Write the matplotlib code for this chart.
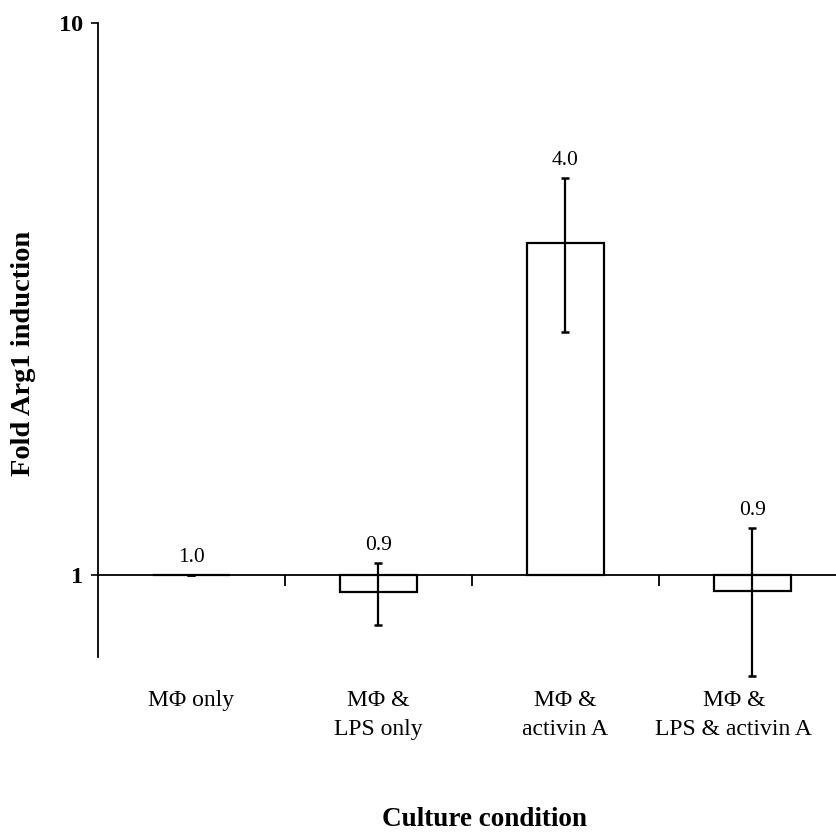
import matplotlib
matplotlib.use("Agg")
import matplotlib.pyplot as plt
import matplotlib.transforms as mtransforms
from matplotlib.ticker import FixedLocator, NullLocator, FixedFormatter

# Fold Arg1 induction per culture condition (mean and error)
categories = ["M\u03a6 only", "M\u03a6 &\nLPS only", "M\u03a6 &\nactivin A", "M\u03a6 &\nLPS & activin A"]
fold_values = [1.0, 0.93, 4.0, 0.935]
fold_errors = [0.0, 0.12, 1.24, 0.28]
y_ticks = [1, 10]
y_tick_labels = ["1", "10"]

plt.rcParams["font.family"] = ["Liberation Serif", "DejaVu Serif"]

fig = plt.figure(figsize=(8.37, 8.38), dpi=100)
ax = fig.add_axes([98 / 837, 181 / 838, 748 / 837, 634 / 838])

baseline = 1.0
x = list(range(len(categories)))
heights = [v - baseline for v in fold_values]
ax.bar(x, heights, bottom=baseline, width=0.41, color="white",
       edgecolor="black", linewidth=1.6, zorder=2)
eb = ax.errorbar(x, fold_values, yerr=fold_errors, fmt="none", ecolor="black",
                 elinewidth=1.6, capsize=2.6, capthick=1.8, zorder=3)
for artist in eb.lines[1] + eb.lines[2]:
    artist.set_clip_on(False)

for xi, v, e in zip(x, fold_values, fold_errors):
    ax.annotate(f"{v:.1f}", (xi, v + e), xytext=(0, 6), textcoords="offset points",
                ha="center", va="bottom", fontsize=15.5)

ax.set_yscale("log")
ax.set_ylim(0.71, 10)
ax.set_xlim(-0.5, len(categories) - 0.5)
ax.yaxis.set_major_locator(FixedLocator(y_ticks))
ax.yaxis.set_major_formatter(FixedFormatter(y_tick_labels))
ax.yaxis.set_minor_locator(NullLocator())
ax.tick_params(axis="y", direction="out", length=5, width=1.2, labelsize=17.5, pad=6)
for lbl in ax.get_yticklabels():
    lbl.set_fontweight("bold")

# horizontal axis drawn through y = 1 with ticks between categories
ax.spines["bottom"].set_position(("data", baseline))
ax.spines["top"].set_visible(False)
ax.spines["right"].set_visible(False)
ax.spines["left"].set_linewidth(1.3)
ax.spines["bottom"].set_linewidth(1.3)
ax.set_xticks([i + 0.5 for i in x[:-1]])
ax.set_xticklabels([])
ax.tick_params(axis="x", direction="out", length=8, width=1.3)

trans = mtransforms.blended_transform_factory(ax.transData, fig.transFigure)
label_shift = [0, 0, 0, -0.1]
for xi, name, dx in zip(x, categories, label_shift):
    ax.text(xi + dx, 1 - 690 / 838, name, transform=trans, ha="center", va="top",
            fontsize=17, linespacing=1.5)

fig.text(484 / 837, 1 - 819 / 838, "Culture condition", ha="center", va="center",
         fontsize=19.5, fontweight="bold")
fig.text(24 / 837, 1 - 353 / 838, "Fold Arg1 induction", ha="center", va="center",
         rotation=90, fontsize=20.5, fontweight="bold")

fig.savefig("out.png", dpi=100)
